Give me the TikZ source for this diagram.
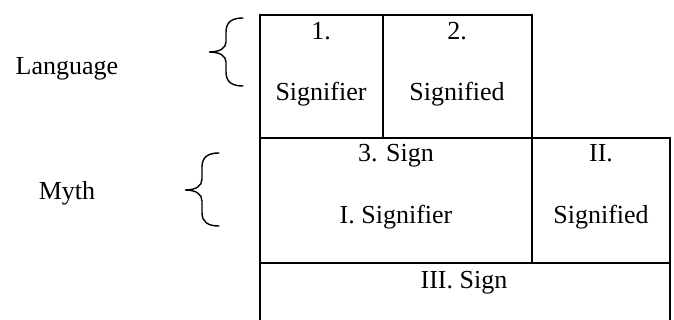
\documentclass[tikz,border=0pt]{standalone}
\usepackage{fontspec}
\setmainfont{Liberation Serif}
\begin{document}
\begin{tikzpicture}[x=1pt,y=-1pt,
  cell/.style={draw,line width=2.5pt,rectangle,inner sep=0pt},
  opencell/.style={rectangle,inner sep=0pt},
  lbl/.style={anchor=base,inner sep=0pt,font=\fontsize{26}{30}\selectfont},
  bracestyle/.style={line width=1.4pt,line cap=round}]
\useasboundingbox (0,0) rectangle (674,320);
% cells
\node[cell,minimum width=123pt,minimum height=123pt] (c1) at (321.5,76.5) {};
\node[cell,minimum width=149pt,minimum height=123pt] (c2) at (457.5,76.5) {};
\node[cell,minimum width=272pt,minimum height=125pt] (c3) at (396,200.5) {};
\node[cell,minimum width=138pt,minimum height=125pt] (c4) at (601,200.5) {};
\node[opencell,minimum width=410pt,minimum height=57pt] (c5) at (465,291.5) {};
\draw[line width=2.5pt] (c5.south west) -- (c5.north west) -- (c5.north east) -- (c5.south east);
% texts
\node[lbl] (t1a) at (321,40) {1.};
\node[lbl] (t1b) at (321,101) {Signifier};
\node[lbl] (t2a) at (457,40) {2.};
\node[lbl] (t2b) at (457,101) {Signified};
\node[lbl] (t3a) at (396,162) {3. Sign};
\node[lbl] (t3b) at (396,224) {I. Signifier};
\node[lbl] (t4a) at (601,162) {II.};
\node[lbl] (t4b) at (601,224) {Signified};
\node[lbl] (t5) at (464,288) {III. Sign};
\node[lbl] (lang) at (67,75) {Language};
\node[lbl] (myth) at (67,200) {Myth};
% braces
\draw[bracestyle] (243,18) .. controls (232,18) and (226,22) .. (226,32) -- (226,42) .. controls (226,48) and (220,52) .. (209,52) .. controls (220,52) and (226,56) .. (226,62) -- (226,72) .. controls (226,82) and (232,86) .. (243,86);
\draw[bracestyle] (219,153) .. controls (208,153) and (202,157) .. (202,167) -- (202,179) .. controls (202,186) and (196,190) .. (185,190) .. controls (196,190) and (202,194) .. (202,201) -- (202,213) .. controls (202,222) and (208,226) .. (219,226);
\end{tikzpicture}
\end{document}
